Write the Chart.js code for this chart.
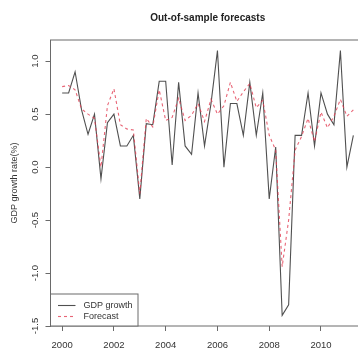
<!DOCTYPE html>
<html>
<head>
<meta charset="utf-8">
<script src="https://cdn.jsdelivr.net/npm/chart.js@4.4.0/dist/chart.umd.min.js"></script>
<style>
  html, body { margin: 0; padding: 0; background: #fff; overflow: hidden; }
  #wrap { position: relative; width: 370px; height: 349px; }
</style>
</head>
<body>
<div id="wrap"><canvas id="c"></canvas></div>
<script>
// Quarterly GDP growth and its out-of-sample forecast, 2000Q1 - 2011Q2
const chartTitle = 'Out-of-sample forecasts';
const yAxisTitle = 'GDP growth rate(%)';
const seriesNames = ['GDP growth', 'Forecast'];
const startYear = 2000;          // first quarter of the sample
const quartersPerYear = 4;

const gdpGrowth = [
  0.70, 0.70, 0.90, 0.54, 0.31, 0.50, -0.11, 0.42, 0.50, 0.20,
  0.20, 0.30, -0.30, 0.41, 0.40, 0.81, 0.81, 0.02, 0.80, 0.20,
  0.12, 0.70, 0.20, 0.60, 1.10, 0.00, 0.60, 0.60, 0.30, 0.80,
  0.30, 0.70, -0.30, 0.19, -1.40, -1.30, 0.30, 0.30, 0.70, 0.20,
  0.70, 0.50, 0.40, 1.10, 0.00, 0.30
];
const forecast = [
  0.76, 0.77, 0.73, 0.55, 0.50, 0.46, 0.00, 0.58, 0.74, 0.40,
  0.36, 0.35, -0.25, 0.46, 0.38, 0.73, 0.44, 0.47, 0.65, 0.44,
  0.49, 0.60, 0.43, 0.64, 0.50, 0.58, 0.80, 0.62, 0.71, 0.79,
  0.56, 0.63, 0.30, 0.16, -0.94, -0.50, 0.16, 0.29, 0.46, 0.24,
  0.52, 0.37, 0.48, 0.64, 0.48, 0.54
];
const xTicks = [2000, 2002, 2004, 2006, 2008, 2010];
const yTicks = [-1.5, -1.0, -0.5, 0.0, 0.5, 1.0];
const yTickLabels = ['-1.5', '-1.0', '-0.5', '0.0', '0.5', '1.0'];

const quarterTime = gdpGrowth.map((_, i) => startYear + i / quartersPerYear);
const toPoints = arr => arr.map((v, i) => ({ x: quarterTime[i], y: v }));

const FONT = '"Liberation Sans", Arial, Helvetica, sans-serif';
const AXIS = '#6a6a6a';
const TEXT = '#333';
const GDP_COLOR = '#505050';
const FC_COLOR = 'rgba(226, 62, 84, 0.8)';

// Frame around the plotting region, rotated y tick labels and the inset legend
const framePlugin = {
  id: 'frame',
  afterDatasetsDraw(chart) {
    const { ctx, chartArea: a, scales } = chart;
    ctx.save();
    ctx.strokeStyle = AXIS;
    ctx.lineWidth = 1;
    ctx.strokeRect(a.left, a.top, a.right - a.left, a.bottom - a.top);

    // y tick labels, written along the axis
    ctx.fillStyle = TEXT;
    ctx.font = '9.5px ' + FONT;
    ctx.textAlign = 'center';
    ctx.textBaseline = 'middle';
    yTicks.forEach((v, i) => {
      const y = scales.y.getPixelForValue(v);
      ctx.save();
      ctx.translate(35, y);
      ctx.rotate(-Math.PI / 2);
      ctx.fillText(yTickLabels[i], 0, 0);
      ctx.restore();
    });

    // legend box in the bottom-left corner
    const bx = a.left, bw = 87.5, bh = 32, by = a.bottom - bh;
    ctx.fillStyle = '#fff';
    ctx.fillRect(bx, by, bw, bh);
    ctx.strokeStyle = AXIS;
    ctx.strokeRect(bx, by, bw, bh);
    const rows = [
      { name: seriesNames[0], color: GDP_COLOR, dash: [], y: by + 11.5 },
      { name: seriesNames[1], color: FC_COLOR, dash: [3, 3], y: by + 22.5 }
    ];
    ctx.font = '9px ' + FONT;
    ctx.textAlign = 'left';
    rows.forEach(r => {
      ctx.strokeStyle = r.color;
      ctx.lineWidth = 1.1;
      ctx.setLineDash(r.dash);
      ctx.beginPath();
      ctx.moveTo(bx + 7.5, r.y);
      ctx.lineTo(bx + 25, r.y);
      ctx.stroke();
      ctx.setLineDash([]);
      ctx.fillStyle = TEXT;
      ctx.fillText(r.name, bx + 33, r.y);
    });
    ctx.restore();
  }
};

new Chart(document.getElementById('c'), {
  type: 'line',
  data: {
    datasets: [
      {
        label: seriesNames[1],
        data: toPoints(forecast),
        borderColor: FC_COLOR,
        borderWidth: 1.1,
        borderDash: [3, 3],
        pointRadius: 0,
        tension: 0,
        fill: false,
        order: 0
      },
      {
        label: seriesNames[0],
        data: toPoints(gdpGrowth),
        borderColor: GDP_COLOR,
        borderWidth: 1.1,
        pointRadius: 0,
        tension: 0,
        fill: false,
        order: 1
      }
    ]
  },
  options: {
    responsive: true,
    maintainAspectRatio: false,
    animation: false,
    events: [],
    layout: { padding: { left: 0, right: 5, top: 0, bottom: 0 } },
    plugins: {
      legend: { display: false },
      tooltip: { enabled: false },
      title: {
        display: true,
        text: chartTitle,
        fullSize: false,
        color: '#222',
        font: { family: FONT, size: 10, weight: 'bold' },
        padding: { top: 12, bottom: 16 }
      }
    },
    scales: {
      x: {
        type: 'linear',
        min: 1999.55,
        max: 2011.70,
        afterBuildTicks: s => { s.ticks = xTicks.map(v => ({ value: v })); },
        afterFit: s => { s.height = 23; },
        ticks: {
          autoSkip: false,
          maxRotation: 0,
          minRotation: 0,
          padding: 9,
          color: TEXT,
          font: { family: FONT, size: 9.5 },
          callback: v => String(v)
        },
        grid: { drawOnChartArea: false, drawTicks: true, tickLength: 5, color: AXIS },
        border: { display: false }
      },
      y: {
        type: 'linear',
        min: -1.5,
        max: 1.2,
        afterBuildTicks: s => { s.ticks = yTicks.map(v => ({ value: v })); },
        afterFit: s => { s.width = 50.5; },
        ticks: { display: false },
        grid: { drawOnChartArea: false, drawTicks: true, tickLength: 5, color: AXIS },
        border: { display: false },
        title: {
          display: true,
          text: yAxisTitle,
          color: TEXT,
          font: { family: FONT, size: 9 },
          padding: { top: 9, bottom: 0 }
        }
      }
    }
  },
  plugins: [framePlugin]
});
</script>
</body>
</html>
